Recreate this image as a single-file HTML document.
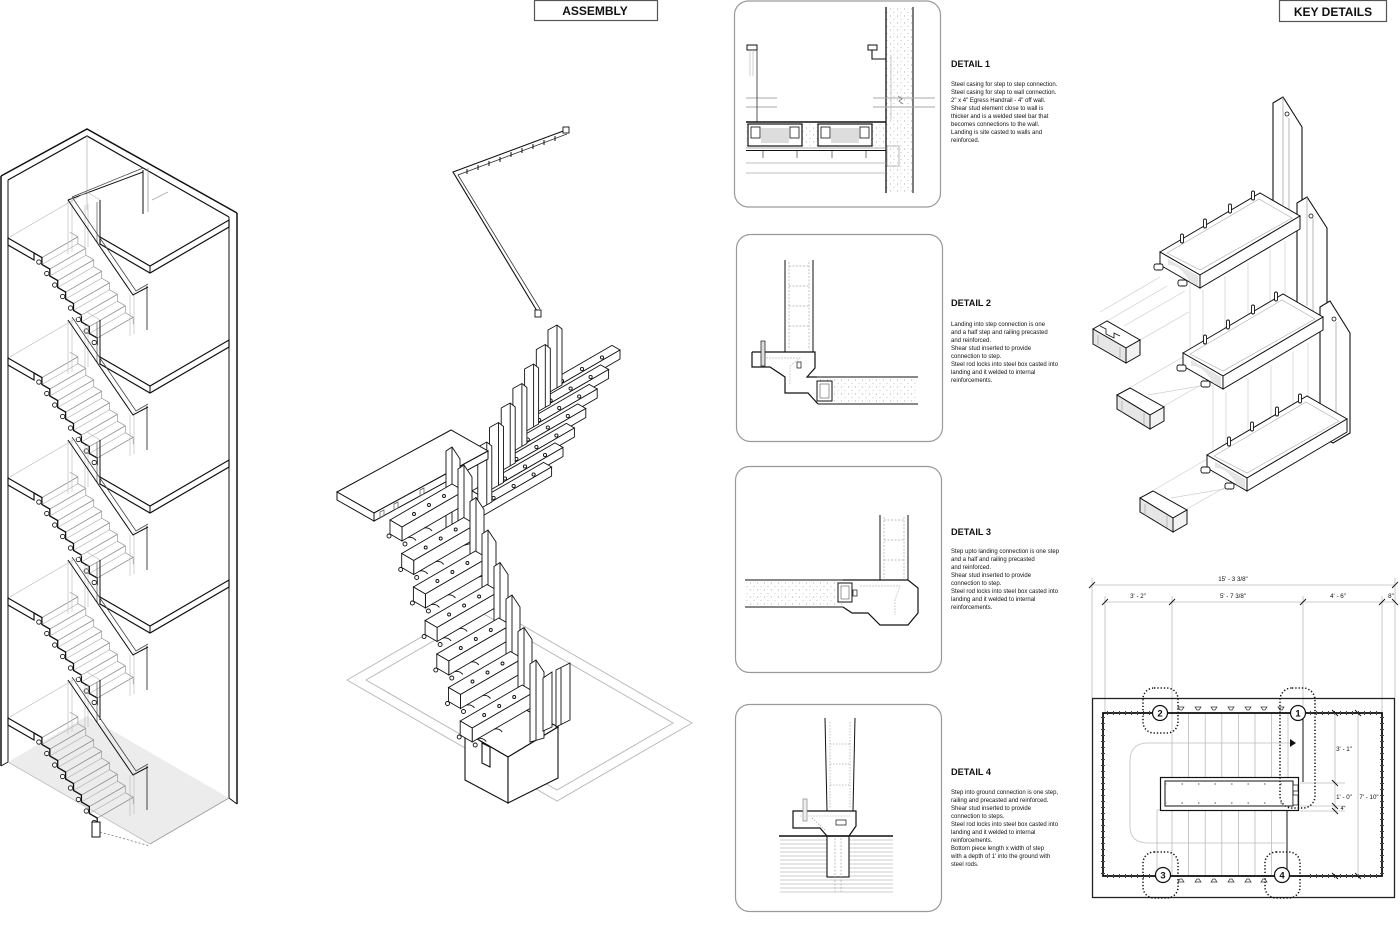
<!DOCTYPE html>
<html><head><meta charset="utf-8">
<style>
html,body{margin:0;padding:0;background:#fff;}
svg{display:block;}
text{font-family:"Liberation Sans",Arial,sans-serif;fill:#111;}
</style></head><body>
<svg width="1400" height="951" viewBox="0 0 1400 951" xmlns="http://www.w3.org/2000/svg">
<defs>
<pattern id="st" width="7" height="7" patternUnits="userSpaceOnUse"><circle cx="1.5" cy="2" r=".55" fill="#999"/><circle cx="5" cy="5.5" r=".45" fill="#aaa"/><circle cx="4.5" cy="1.2" r=".35" fill="#bbb"/></pattern>

<g id="fl">
 <line x1="8" y1="238" x2="87" y2="192" stroke="#bbb" stroke-width=".7"/>
 <line x1="87" y1="192" x2="100" y2="200" stroke="#bbb" stroke-width=".7"/>
 <g stroke="#777" stroke-width=".65">
  <line x1="41.9" y1="257.6" x2="77.9" y2="236.8"/><line x1="49.8" y1="269.1" x2="85.8" y2="248.3"/>
  <line x1="57.7" y1="280.6" x2="93.7" y2="259.8"/><line x1="65.6" y1="292.1" x2="101.6" y2="271.3"/>
  <line x1="73.5" y1="303.6" x2="109.5" y2="282.8"/><line x1="81.4" y1="315.1" x2="117.4" y2="294.3"/>
  <line x1="89.3" y1="326.6" x2="125.3" y2="305.8"/><line x1="97.2" y1="338.1" x2="133.2" y2="317.3"/>
 </g>
 <g stroke="#aaa" stroke-width=".6">
  <line x1="41.9" y1="264.5" x2="77.9" y2="243.7"/><line x1="49.8" y1="276" x2="85.8" y2="255.2"/>
  <line x1="57.7" y1="287.5" x2="93.7" y2="266.7"/><line x1="65.6" y1="299" x2="101.6" y2="278.2"/>
  <line x1="73.5" y1="310.5" x2="109.5" y2="289.7"/><line x1="81.4" y1="322" x2="117.4" y2="301.2"/>
  <line x1="89.3" y1="333.5" x2="125.3" y2="312.7"/>
 </g>
 <path d="M70,232.2 l7.9,4.56v6.94 l7.9,4.56v6.94 l7.9,4.56v6.94 l7.9,4.56v6.94 l7.9,4.56v6.94 l7.9,4.56v6.94 l7.9,4.56v6.94 l7.9,4.56v6.94" fill="none" stroke="#999" stroke-width=".7"/>
 <g stroke="#c0c0c0" stroke-width=".7">
  <line x1="68" y1="200" x2="68" y2="254"/><line x1="72" y1="198" x2="72" y2="252"/>
  <line x1="85" y1="205" x2="85" y2="249"/><line x1="88" y1="204" x2="88" y2="247"/>
  <line x1="130" y1="295" x2="130" y2="336"/><line x1="134" y1="292" x2="134" y2="334"/>
 </g>
 <line x1="97" y1="202" x2="97" y2="242" stroke="#666" stroke-width=".8"/>
 <line x1="100" y1="200" x2="100" y2="240" stroke="#111" stroke-width="1"/>
 <line x1="147" y1="286" x2="147" y2="330" stroke="#333" stroke-width=".9"/>
 <polygon points="8,238 34,253 34,260 8,245" fill="#fff" stroke="#111" stroke-width="1.2"/>
 <path d="M34,253 l7.9,4.56v6.94 l7.9,4.56v6.94 l7.9,4.56v6.94 l7.9,4.56v6.94 l7.9,4.56v6.94 l7.9,4.56v6.94 l7.9,4.56v6.94 l7.9,4.56v6.94" fill="none" stroke="#111" stroke-width="1.3"/>
 <g fill="#fff" stroke="#111" stroke-width=".8">
  <circle cx="38.9" cy="262" r="2.2"/><circle cx="46.8" cy="273.5" r="2.2"/><circle cx="54.7" cy="285" r="2.2"/>
  <circle cx="62.6" cy="296.5" r="2.2"/><circle cx="70.5" cy="308" r="2.2"/><circle cx="78.4" cy="319.5" r="2.2"/>
  <circle cx="86.3" cy="331" r="2.2"/><circle cx="94.2" cy="342.5" r="2.2"/>
 </g>
 <path d="M68,200 L133,295 L148,287" fill="none" stroke="#111" stroke-width="1"/>
 <path d="M72,197 L136,291 L148,284" fill="none" stroke="#444" stroke-width=".8"/>
</g>

<g id="ld">
 <polygon points="100,237 150,266 229,220 229,227 150,273 100,244" fill="#fff" stroke="#111" stroke-width="1.2"/>
 <line x1="150" y1="266" x2="150" y2="273" stroke="#111" stroke-width="1"/>
</g>

<g id="ut" stroke="#111" stroke-width=".9">
 <path d="M0,0 L83,-48 L75,-52.6 L-8,-4.6 Z" fill="#fff"/>
 <path d="M0,0 L83,-48 L83,-39 L0,9 Z" fill="#fff"/>
 <path d="M0,0 L-8,-4.6 L-8,4.4 L0,9 Z" fill="#fff"/>
 <circle cx="25" cy="-17" r="1.6" fill="#fff"/><circle cx="45" cy="-29" r="1.6" fill="#fff"/><circle cx="65" cy="-40.5" r="1.6" fill="#fff"/>
</g>
<g id="up" stroke="#111" stroke-width=".9">
 <path d="M0,5 L9,0 L14,4 L14,60 L0,68 Z" fill="#fff"/>
 <path d="M9,0 V63" fill="none"/>
</g>
<g id="lt" stroke="#111" stroke-width=".9">
 <path d="M0,0 L62,-36 L50,-43 L-12,-7 Z" fill="#fff"/>
 <path d="M0,0 L62,-36 L62,-22 L0,14 Z" fill="#fff"/>
 <path d="M0,0 L-12,-7 L-12,7 L0,14 Z" fill="#fff"/>
 <path d="M6,10.5 q5,-1 8,3 M22,1 q5,-1 8,3" fill="none"/>
 <circle cx="12" cy="-13" r="1.5" fill="#fff"/><circle cx="27" cy="-22" r="1.5" fill="#fff"/><circle cx="42" cy="-31" r="1.5" fill="#fff"/>
 <circle cx="-13" cy="9" r="2" fill="#fff"/><circle cx="3" cy="17" r="2" fill="#fff"/>
</g>
<g id="lp" stroke="#111" stroke-width=".9">
 <path d="M0,4 L6,0 L14,12 L14,78 L0,82 Z" fill="#fff"/>
 <path d="M6,0 V80" fill="none"/>
</g>

<g id="kt" stroke="#111" stroke-width="1">
 <path d="M0,0 L100,-59 L140,-36 L40,23 Z" fill="#fff"/>
 <path d="M7,1 L99,-53 L132,-34 L40,18 Z" fill="none" stroke="#aaa" stroke-width=".6"/>
 <path d="M40,23 L140,-36 L140,-23 L40,36 Z" fill="#fff"/>
 <path d="M0,0 L40,23 L40,36 L0,13 Z" fill="#fff"/>
 <path d="M8,13 Q20,12 30,30 L38,34 L38,24 L8,7 Z" fill="#e4e4e4" stroke="none"/>
 <g fill="#fff" stroke-width=".9">
  <rect x="20.5" y="-18" width="3" height="9" rx="1.5"/><rect x="43.5" y="-33" width="3" height="9" rx="1.5"/>
  <rect x="68.5" y="-48" width="3" height="9" rx="1.5"/><rect x="91.5" y="-61" width="3" height="9" rx="1.5"/>
  <rect x="-6" y="12" width="9" height="6" rx="2"/><rect x="18" y="28" width="9" height="6" rx="2"/>
 </g>
</g>
</defs>

<rect x="534.5" y="0.5" width="123" height="20" fill="#fff" stroke="#555" stroke-width="1.2"/>
<text x="595" y="15" text-anchor="middle" font-size="12" font-weight="bold">ASSEMBLY</text>
<rect x="1279.5" y="0.5" width="107" height="21" fill="#fff" stroke="#555" stroke-width="1.2"/>
<text x="1333" y="16" text-anchor="middle" font-size="12" font-weight="bold">KEY DETAILS</text>

<!-- TOWER -->
<polygon points="8,762 87,716 229,798 150,844" fill="#ececec"/>
<polyline points="1,176 87,129 237,213" fill="none" stroke="#111" stroke-width="1.5"/>
<polyline points="8,180 87,136 229,217" fill="none" stroke="#111" stroke-width="1.2"/>
<line x1="87" y1="136" x2="87" y2="210" stroke="#bbb" stroke-width=".8"/>
<line x1="1" y1="176" x2="1" y2="766" stroke="#111" stroke-width="1.5"/>
<line x1="8" y1="180" x2="8" y2="762" stroke="#111" stroke-width="1"/>
<line x1="237" y1="213" x2="237" y2="804" stroke="#111" stroke-width="1.5"/>
<line x1="229" y1="217" x2="229" y2="798" stroke="#111" stroke-width="1"/>
<line x1="1" y1="766" x2="8" y2="762" stroke="#111"/>
<line x1="229" y1="798" x2="237" y2="804" stroke="#111"/>
<line x1="150" y1="844" x2="229" y2="798" stroke="#999" stroke-width=".8"/>
<line x1="8" y1="762" x2="150" y2="844" stroke="#bbb" stroke-width=".8"/>
<path d="M68,200 L143,172" stroke="#111" stroke-width="1" fill="none"/>
<path d="M72,197 L143,168" stroke="#444" stroke-width=".8" fill="none"/>
<line x1="143" y1="170" x2="143" y2="214" stroke="#111" stroke-width="1"/>
<line x1="148" y1="168" x2="148" y2="212" stroke="#999" stroke-width=".8"/>
<line x1="152" y1="200" x2="168" y2="192" stroke="#aaa" stroke-width=".8"/>

<use href="#ld"/>
<use href="#ld" transform="translate(0,120)"/>
<use href="#ld" transform="translate(0,240)"/>
<use href="#ld" transform="translate(0,360)"/>
<use href="#fl"/>
<use href="#fl" transform="translate(0,120)"/>
<use href="#fl" transform="translate(0,240)"/>
<use href="#fl" transform="translate(0,360)"/>
<use href="#fl" transform="translate(0,480)"/>
<rect x="92" y="822" width="8" height="15" fill="#fff" stroke="#111" stroke-width="1"/>
<line x1="100" y1="832" x2="150" y2="846" stroke="#666" stroke-width=".7" stroke-dasharray="2 2"/>

<!-- ASSEMBLY -->
<polygon points="347,680 482,602 692,723 557,801" fill="none" stroke="#bbb" stroke-width="1"/>
<polygon points="366,680 482,613 673,723 557,790" fill="none" stroke="#bbb" stroke-width="1"/>
<path d="M566,130 L453,172 L537,311" fill="none" stroke="#111" stroke-width="1.1"/>
<path d="M567,134 L458,175 L540,309" fill="none" stroke="#333" stroke-width=".8"/>
<g stroke="#111" stroke-width="1">
 <line x1="555" y1="136" x2="555" y2="141"/><line x1="544" y1="140" x2="544" y2="145"/><line x1="533" y1="144" x2="533" y2="149"/>
 <line x1="522" y1="148" x2="522" y2="153"/><line x1="511" y1="152" x2="511" y2="157"/><line x1="500" y1="157" x2="500" y2="162"/>
 <line x1="489" y1="161" x2="489" y2="166"/><line x1="478" y1="165" x2="478" y2="170"/><line x1="467" y1="169" x2="467" y2="174"/>
</g>
<rect x="563" y="127" width="6" height="6" fill="#fff" stroke="#111" stroke-width=".9"/>
<rect x="535" y="310" width="6" height="7" fill="#fff" stroke="#111" stroke-width=".9"/>
<use href="#ut" transform="translate(537,398)"/><use href="#up" transform="translate(548,325)"/>
<use href="#ut" transform="translate(525.6,417.5)"/><use href="#up" transform="translate(536.3,344.5)"/>
<use href="#ut" transform="translate(514.2,437)"/><use href="#up" transform="translate(524.6,364)"/>
<use href="#ut" transform="translate(502.8,456.5)"/><use href="#up" transform="translate(512.9,383.5)"/>
<use href="#ut" transform="translate(491.4,476)"/><use href="#up" transform="translate(501.2,403)"/>
<use href="#ut" transform="translate(480,495.5)"/><use href="#up" transform="translate(489.5,422.5)"/>
<use href="#ut" transform="translate(468.6,515)"/><use href="#up" transform="translate(477.8,442)"/>
<g stroke="#111" stroke-width="1">
 <path d="M337,492 L451,430 L488,451 L374,513 Z" fill="#fff"/>
 <path d="M337,492 L374,513 L374,521 L337,500 Z" fill="#fff"/>
 <path d="M374,513 L488,451 L488,459 L374,521 Z" fill="#fff"/>
</g>
<g stroke="#555" stroke-width=".7" fill="none">
 <path d="M380,512 l4,-2 v6 l-4,2 z M394,504 l4,-2 v6 l-4,2 z M420,490 l4,-2 v6 l-4,2 z"/>
</g>
<use href="#lp" transform="translate(446,447)"/>
<g stroke="#111" stroke-width="1.1">
 <path d="M465,732 L515,704 L558,727 L508,757 Z" fill="#fff"/>
 <path d="M465,732 L508,757 L508,803 L465,780 Z" fill="#fff"/>
 <path d="M508,757 L558,727 L558,778 L508,803 Z" fill="#fff"/>
 <path d="M482,743 L490,747 L490,767 L482,763 Z" fill="#fff"/>
</g>
<use href="#lt" transform="translate(402,527)"/><use href="#lp" transform="translate(458,465)"/>
<use href="#lt" transform="translate(413.7,560.5)"/><use href="#lp" transform="translate(470,497.5)"/>
<use href="#lt" transform="translate(425.4,594)"/><use href="#lp" transform="translate(482,530)"/>
<use href="#lt" transform="translate(437.1,627.5)"/><use href="#lp" transform="translate(494,562.5)"/>
<use href="#lt" transform="translate(448.8,661)"/><use href="#lp" transform="translate(506,595)"/>
<use href="#lt" transform="translate(460.5,694.5)"/><use href="#lp" transform="translate(518,627.5)"/>
<use href="#lt" transform="translate(472.2,728)"/><use href="#lp" transform="translate(530,660)"/>
<g stroke="#111" stroke-width=".9" fill="#fff">
 <path d="M543,678 L552,672 L552,727 L543,731 Z"/>
 <path d="M556,670 L570,663 L570,720 L556,727 Z"/>
 <path d="M561,668 V725" fill="none"/>
</g>

<!-- DETAIL PANELS -->
<g fill="#fff" stroke="#9a9a9a" stroke-width="1.2">
 <rect x="734.5" y="1" width="206" height="206" rx="14"/>
 <rect x="736.5" y="234.5" width="206" height="207" rx="14"/>
 <rect x="735.5" y="466.5" width="206" height="206" rx="14"/>
 <rect x="735.5" y="704.5" width="206" height="207" rx="14"/>
</g>

<rect x="886" y="7" width="27" height="186" fill="url(#st)"/>
<line x1="886" y1="7" x2="886" y2="193" stroke="#111" stroke-width="1.3"/>
<line x1="913" y1="7" x2="913" y2="193" stroke="#111" stroke-width="1.1"/>
<g stroke="#aaa" stroke-width="1">
 <line x1="746" y1="98" x2="777" y2="98"/><line x1="746" y1="107" x2="777" y2="107"/>
 <line x1="873" y1="98" x2="935" y2="98"/><line x1="873" y1="107" x2="935" y2="107"/>
</g>
<path d="M898,96 l4,3 l-3,2 l4,3" fill="none" stroke="#666" stroke-width=".7"/>
<rect x="747" y="45" width="10" height="5" fill="#fff" stroke="#111" stroke-width="1"/>
<line x1="750" y1="50" x2="750" y2="76" stroke="#bbb" stroke-width=".7"/>
<line x1="753" y1="50" x2="753" y2="76" stroke="#bbb" stroke-width=".7"/>
<line x1="757" y1="50" x2="757" y2="122" stroke="#555" stroke-width="1"/>
<rect x="868" y="45" width="9" height="5" fill="#fff" stroke="#111" stroke-width="1"/>
<path d="M872,50 V59 H886" fill="none" stroke="#111" stroke-width="1.1"/>
<line x1="891" y1="55" x2="891" y2="120" stroke="#bbb" stroke-width=".8"/>
<rect x="746" y="122" width="140" height="25" fill="url(#st)"/>
<line x1="746" y1="122" x2="886" y2="122" stroke="#111" stroke-width="1.6"/>
<g stroke="#111" stroke-width="1.2" fill="#fff">
 <rect x="748" y="124" width="54" height="22"/><rect x="818" y="124" width="54" height="22"/>
</g>
<g fill="#ddd"><rect x="761" y="128" width="28" height="15"/><rect x="831" y="128" width="28" height="15"/></g>
<g fill="#fff" stroke="#111" stroke-width=".8">
 <rect x="751" y="127" width="9" height="11"/><rect x="790" y="127" width="9" height="11"/>
 <rect x="821" y="127" width="9" height="11"/><rect x="860" y="127" width="9" height="11"/>
</g>
<line x1="746" y1="148" x2="886" y2="148" stroke="#999" stroke-width=".8"/>
<line x1="746" y1="150.5" x2="886" y2="150.5" stroke="#111" stroke-width="1"/>
<line x1="746" y1="163" x2="886" y2="163" stroke="#aaa" stroke-width=".8"/>
<line x1="746" y1="173" x2="886" y2="173" stroke="#aaa" stroke-width=".8"/>
<g stroke="#777" stroke-width="1"><line x1="763" y1="151" x2="763" y2="158"/><line x1="797" y1="151" x2="797" y2="158"/><line x1="832" y1="151" x2="832" y2="158"/><line x1="866" y1="151" x2="866" y2="158"/></g>
<rect x="887" y="146" width="12" height="20" fill="none" stroke="#999" stroke-width=".7"/>

<line x1="785" y1="260" x2="785" y2="352" stroke="#111" stroke-width="1"/>
<line x1="813" y1="260" x2="813" y2="352" stroke="#111" stroke-width="1"/>
<g stroke="#aaa" stroke-width=".7" stroke-dasharray="2 1.5" fill="none">
 <path d="M789,262 V350 M809,262 V350 M789,266 H809 M789,286 H809 M789,306 H809 M789,326 H809"/>
</g>
<rect x="817" y="377" width="101" height="27" fill="url(#st)"/>
<line x1="815" y1="377" x2="918" y2="377" stroke="#111" stroke-width="1.1"/>
<line x1="818" y1="404" x2="918" y2="404" stroke="#111" stroke-width="1.1"/>
<path d="M752,352 H815 V368 L807,377 H817 M752,352 V367 H770 L785,377 V393 H808 L818,404" fill="none" stroke="#111" stroke-width="1.2"/>
<path d="M760,358 H800 L790,366 V385" fill="none" stroke="#bbb" stroke-width=".7" stroke-dasharray="2 1"/>
<rect x="817" y="381" width="15" height="20" fill="#fff" stroke="#111" stroke-width="1"/>
<rect x="820" y="384" width="9" height="14" fill="none" stroke="#555" stroke-width=".6"/>
<rect x="761" y="341" width="4" height="25" fill="#ddd" stroke="#111" stroke-width=".7"/>
<rect x="797" y="362" width="4" height="6" fill="none" stroke="#111" stroke-width=".7"/>

<line x1="880" y1="515" x2="880" y2="580" stroke="#111" stroke-width="1"/>
<line x1="908" y1="515" x2="908" y2="580" stroke="#111" stroke-width="1"/>
<g stroke="#aaa" stroke-width=".7" stroke-dasharray="2 1.5" fill="none">
 <path d="M884,517 V578 M904,517 V578 M884,520 H904 M884,540 H904 M884,560 H904"/>
</g>
<rect x="745" y="580" width="98" height="27" fill="url(#st)"/>
<line x1="745" y1="580" x2="843" y2="580" stroke="#111" stroke-width="1.1"/>
<line x1="745" y1="607" x2="843" y2="607" stroke="#111" stroke-width="1.1"/>
<path d="M843,580 H908 L918,588 V613 L908,625 H880 L868,613 H852 L843,607" fill="none" stroke="#111" stroke-width="1.2"/>
<path d="M860,586 H900 L895,600 V615" fill="none" stroke="#bbb" stroke-width=".7" stroke-dasharray="2 1"/>
<rect x="838" y="583" width="14" height="19" fill="#fff" stroke="#111" stroke-width="1"/>
<rect x="841" y="586" width="8" height="13" fill="none" stroke="#555" stroke-width=".6"/>
<rect x="853" y="590" width="4" height="6" fill="none" stroke="#111" stroke-width=".7"/>

<g stroke="#ccc" stroke-width=".9">
 <line x1="780" y1="840" x2="893" y2="840"/><line x1="780" y1="844" x2="893" y2="844"/><line x1="780" y1="848" x2="893" y2="848"/>
 <line x1="780" y1="852" x2="893" y2="852"/><line x1="780" y1="856" x2="893" y2="856"/><line x1="780" y1="860" x2="893" y2="860"/>
 <line x1="780" y1="864" x2="893" y2="864"/><line x1="780" y1="868" x2="893" y2="868"/><line x1="780" y1="872" x2="893" y2="872"/>
 <line x1="780" y1="876" x2="893" y2="876"/><line x1="780" y1="880" x2="893" y2="880"/><line x1="780" y1="884" x2="893" y2="884"/>
 <line x1="780" y1="888" x2="893" y2="888"/><line x1="780" y1="892" x2="893" y2="892"/>
</g>
<rect x="827" y="836" width="22" height="41" fill="#fff" stroke="#111" stroke-width="1.1"/>
<line x1="835" y1="838" x2="835" y2="892" stroke="#999" stroke-width=".6" stroke-dasharray="2 1.5"/>
<line x1="841" y1="838" x2="841" y2="892" stroke="#999" stroke-width=".6" stroke-dasharray="2 1.5"/>
<line x1="825" y1="718" x2="827" y2="811" stroke="#111" stroke-width="1"/>
<line x1="855" y1="718" x2="853" y2="811" stroke="#111" stroke-width="1"/>
<g stroke="#aaa" stroke-width=".7" stroke-dasharray="1.5 1.5" fill="none">
 <path d="M830,722 V808 M850,722 V808 M830,744 H850 M830,764 H850 M830,785 H850"/>
</g>
<path d="M793,811 H856 V826 L849,836 H827 L820,828 H793 Z" fill="#fff" stroke="#111" stroke-width="1.2"/>
<path d="M800,816 H850 M812,818 L825,830" fill="none" stroke="#999" stroke-width=".6" stroke-dasharray="1.5 1.2"/>
<rect x="836" y="820" width="10" height="5" fill="none" stroke="#111" stroke-width=".7"/>
<line x1="779" y1="836" x2="893" y2="836" stroke="#111" stroke-width="1.6"/>
<rect x="803" y="799" width="4" height="22" fill="#eee" stroke="#888" stroke-width=".7"/>

<g font-size="6">
<text x="951" y="67" font-size="9.5" font-weight="bold" textLength="39" lengthAdjust="spacingAndGlyphs">DETAIL 1</text>
<text x="951" y="86">Steel casing for step to step connection.</text>
<text x="951" y="94">Steel casing for step to wall connection.</text>
<text x="951" y="102">2" x 4" Egress Handrail - 4" off wall.</text>
<text x="951" y="110">Shear stud element close to wall is</text>
<text x="951" y="118">thicker and is a welded steel bar that</text>
<text x="951" y="126">becomes  connections to the wall.</text>
<text x="951" y="134">Landing is site casted to walls and</text>
<text x="951" y="142">reinforced.</text>

<text x="951" y="306" font-size="9.5" font-weight="bold" textLength="40" lengthAdjust="spacingAndGlyphs">DETAIL 2</text>
<text x="951" y="326">Landing into step connection is one</text>
<text x="951" y="334">and a half step and railing precasted</text>
<text x="951" y="342">and reinforced.</text>
<text x="951" y="350">Shear stud  inserted to provide</text>
<text x="951" y="358">connection to step.</text>
<text x="951" y="366">Steel rod locks into steel box casted into</text>
<text x="951" y="374">landing and it welded to internal</text>
<text x="951" y="382">reinforcements.</text>

<text x="951" y="535" font-size="9.5" font-weight="bold" textLength="40" lengthAdjust="spacingAndGlyphs">DETAIL 3</text>
<text x="951" y="553">Step upto landing connection is one step</text>
<text x="951" y="561">and a half and railing precasted</text>
<text x="951" y="569">and reinforced.</text>
<text x="951" y="577">Shear stud  inserted to provide</text>
<text x="951" y="585">connection to step.</text>
<text x="951" y="593">Steel rod locks into steel box casted into</text>
<text x="951" y="601">landing and it welded to internal</text>
<text x="951" y="609">reinforcements.</text>

<text x="951" y="775" font-size="9.5" font-weight="bold" textLength="40" lengthAdjust="spacingAndGlyphs">DETAIL 4</text>
<text x="951" y="794">Step into ground connection is one step,</text>
<text x="951" y="802">railing and  precasted and reinforced.</text>
<text x="951" y="810">Shear stud  inserted to provide</text>
<text x="951" y="818">connection to steps.</text>
<text x="951" y="826">Steel rod locks into steel box casted into</text>
<text x="951" y="834">landing and it welded to internal</text>
<text x="951" y="842">reinforcements.</text>
<text x="951" y="850">Bottom piece length x width of step</text>
<text x="951" y="858">with a depth of 1' into the ground with</text>
<text x="951" y="866">steel rods.</text>
</g>

<!-- KEY DETAILS EXPLODED -->
<g stroke="#cfcfcf" stroke-width=".7">
 <line x1="1190" y1="282" x2="1190" y2="372"/><line x1="1203" y1="290" x2="1203" y2="380"/>
 <line x1="1225" y1="276" x2="1225" y2="365"/><line x1="1248" y1="263" x2="1248" y2="352"/>
 <line x1="1270" y1="250" x2="1270" y2="338"/><line x1="1285" y1="241" x2="1285" y2="330"/>
 <line x1="1213" y1="385" x2="1213" y2="474"/><line x1="1226" y1="392" x2="1226" y2="482"/>
 <line x1="1248" y1="378" x2="1248" y2="468"/><line x1="1271" y1="365" x2="1271" y2="454"/>
 <line x1="1293" y1="352" x2="1293" y2="440"/><line x1="1308" y1="343" x2="1308" y2="432"/>
 <line x1="1107" y1="321" x2="1167" y2="286"/><line x1="1124" y1="326" x2="1185" y2="291"/>
 <line x1="1100" y1="312" x2="1160" y2="277"/><line x1="1140" y1="340" x2="1189" y2="312"/>
 <line x1="1131" y1="387" x2="1190" y2="353"/><line x1="1164" y1="406" x2="1213" y2="378"/>
 <line x1="1148" y1="395" x2="1206" y2="385"/>
 <line x1="1154" y1="490" x2="1214" y2="455"/><line x1="1187" y1="509" x2="1236" y2="481"/>
 <line x1="1171" y1="498" x2="1230" y2="488"/>
</g>
<g stroke="#111" stroke-width="1.1" fill="#fff">
 <path d="M1273,103 L1283,97 L1302,127 L1302,222 L1273,205 Z"/>
 <path d="M1297,203 L1307,197 L1327,228 L1327,323 L1297,306 Z"/>
 <path d="M1320,307 L1330,301 L1350,333 L1350,433 L1333,443 L1320,436 Z"/>
</g>
<g stroke="#999" stroke-width=".7" fill="none">
 <path d="M1289,118 V216 M1313,218 V316 M1336,322 V438 M1283,97 V205 M1307,197 V306"/>
</g>
<g fill="#fff" stroke="#111" stroke-width=".8">
 <circle cx="1287" cy="114" r="2"/><circle cx="1311" cy="216" r="2"/><circle cx="1334" cy="319" r="2"/>
</g>
<use href="#kt" transform="translate(1160,252)"/>
<use href="#kt" transform="translate(1183,353)"/>
<use href="#kt" transform="translate(1207,455)"/>
<g stroke="#111" stroke-width="1">
 <path d="M1093,329 L1107,321 L1140,340 L1126,348 Z" fill="#fff"/>
 <path d="M1093,329 L1126,348 L1126,363 L1093,344 Z" fill="#e6e6e6"/>
 <path d="M1126,348 L1140,340 L1140,355 L1126,363 Z" fill="#f2f2f2"/>
 <path d="M1100,326 l6,3 v5 l8,4 v-5 l6,3" fill="none" stroke-width=".8"/>
 <path d="M1117,395 L1130,388 L1164,407 L1150,415 Z" fill="#fff"/>
 <path d="M1117,395 L1150,415 L1150,429 L1117,409 Z" fill="#e6e6e6"/>
 <path d="M1150,415 L1164,407 L1164,421 L1150,429 Z" fill="#f2f2f2"/>
 <path d="M1140,498 L1153,491 L1187,510 L1173,518 Z" fill="#fff"/>
 <path d="M1140,498 L1173,518 L1173,532 L1140,512 Z" fill="#e6e6e6"/>
 <path d="M1173,518 L1187,510 L1187,524 L1173,532 Z" fill="#f2f2f2"/>
</g>
<g stroke="#999" stroke-width=".6" fill="none">
 <path d="M1098,335 V345 M1120,347 V358 M1122,401 V413 M1144,413 V425 M1145,504 V516 M1167,516 V528"/>
</g>

<!-- PLAN -->
<g stroke="#bbb" stroke-width=".8">
 <line x1="1092" y1="585" x2="1395" y2="585"/>
 <line x1="1105" y1="602" x2="1395" y2="602"/>
 <line x1="1092" y1="578" x2="1092" y2="698"/><line x1="1395" y1="578" x2="1395" y2="698"/>
 <line x1="1105" y1="596" x2="1105" y2="713"/><line x1="1172" y1="596" x2="1172" y2="713"/>
 <line x1="1303" y1="596" x2="1303" y2="713"/><line x1="1382" y1="596" x2="1382" y2="713"/>
</g>
<g stroke="#111" stroke-width=".9">
 <line x1="1089" y1="588" x2="1095" y2="582"/><line x1="1392" y1="588" x2="1398" y2="582"/>
 <line x1="1102" y1="605" x2="1108" y2="599"/><line x1="1169" y1="605" x2="1175" y2="599"/>
 <line x1="1300" y1="605" x2="1306" y2="599"/><line x1="1379" y1="605" x2="1385" y2="599"/>
 <line x1="1392" y1="599" x2="1398" y2="605"/>
</g>
<g font-size="6.2" text-anchor="middle">
 <text x="1233" y="581">15' - 3 3/8"</text>
 <text x="1138" y="598">3' - 2"</text>
 <text x="1233" y="598">5' - 7 3/8"</text>
 <text x="1338" y="598">4' - 6"</text>
 <text x="1391" y="598">8"</text>
</g>
<rect x="1092.5" y="698.5" width="302" height="199" fill="none" stroke="#222" stroke-width="1.3"/>
<path d="M1290,743 H1148 Q1130,743 1130,761 V826 Q1130,843 1148,843 H1285" fill="none" stroke="#ccc" stroke-width="1"/>
<g stroke="#bbb" stroke-width=".8">
 <line x1="1172" y1="713" x2="1172" y2="777"/><line x1="1188.6" y1="713" x2="1188.6" y2="777"/>
 <line x1="1205.2" y1="713" x2="1205.2" y2="777"/><line x1="1221.8" y1="713" x2="1221.8" y2="777"/>
 <line x1="1238.4" y1="713" x2="1238.4" y2="777"/><line x1="1255" y1="713" x2="1255" y2="777"/>
 <line x1="1271.6" y1="713" x2="1271.6" y2="777"/><line x1="1288" y1="713" x2="1288" y2="777"/>
 <line x1="1157" y1="810" x2="1157" y2="876"/><line x1="1172" y1="810" x2="1172" y2="876"/>
 <line x1="1188.6" y1="810" x2="1188.6" y2="876"/><line x1="1205.2" y1="810" x2="1205.2" y2="876"/>
 <line x1="1221.8" y1="810" x2="1221.8" y2="876"/><line x1="1238.4" y1="810" x2="1238.4" y2="876"/>
 <line x1="1255" y1="810" x2="1255" y2="876"/><line x1="1271.6" y1="810" x2="1271.6" y2="876"/>
 <line x1="1157" y1="810" x2="1287" y2="810"/>
</g>
<line x1="1303" y1="713" x2="1303" y2="782" stroke="#111" stroke-width="1"/>
<line x1="1287" y1="810" x2="1287" y2="876" stroke="#111" stroke-width="1"/>
<polygon points="1290,739 1296,743 1290,747" fill="#111"/>
<rect x="1160.5" y="777.5" width="138" height="33" fill="#fff" stroke="#111" stroke-width="1.2"/>
<rect x="1165" y="781" width="128" height="25" fill="#fff" stroke="#111" stroke-width="1"/>
<line x1="1165" y1="784" x2="1293" y2="784" stroke="#777" stroke-width="1.2" stroke-dasharray="1.5 15"/>
<line x1="1165" y1="803" x2="1293" y2="803" stroke="#777" stroke-width="1.2" stroke-dasharray="1.5 15"/>
<rect x="1293" y="785" width="5" height="6" fill="#fff" stroke="#111" stroke-width=".7"/>
<rect x="1293" y="795" width="5" height="10" fill="#fff" stroke="#111" stroke-width=".7"/>
<rect x="1103" y="713" width="279" height="163" fill="none" stroke="#111" stroke-width="1.8"/>
<g stroke="#444" stroke-width="4" stroke-dasharray="1 5">
 <line x1="1107" y1="713" x2="1170" y2="713"/><line x1="1310" y1="713" x2="1380" y2="713"/>
 <line x1="1107" y1="876" x2="1170" y2="876"/><line x1="1310" y1="876" x2="1380" y2="876"/>
 <line x1="1103" y1="717" x2="1103" y2="874"/><line x1="1382" y1="717" x2="1382" y2="874"/>
</g>
<g fill="#fff" stroke="#333" stroke-width=".7">
 <path d="M1178,707 h6 l-2,3 h-2 z"/><path d="M1195,707 h6 l-2,3 h-2 z"/><path d="M1211,707 h6 l-2,3 h-2 z"/>
 <path d="M1228,707 h6 l-2,3 h-2 z"/><path d="M1245,707 h6 l-2,3 h-2 z"/><path d="M1261,707 h6 l-2,3 h-2 z"/>
 <path d="M1278,707 h6 l-2,3 h-2 z"/>
 <path d="M1178,882 h6 l-2,-3 h-2 z"/><path d="M1195,882 h6 l-2,-3 h-2 z"/><path d="M1211,882 h6 l-2,-3 h-2 z"/>
 <path d="M1228,882 h6 l-2,-3 h-2 z"/><path d="M1245,882 h6 l-2,-3 h-2 z"/><path d="M1261,882 h6 l-2,-3 h-2 z"/>
</g>
<g stroke="#bbb" stroke-width=".8">
 <line x1="1335" y1="713" x2="1335" y2="810"/><line x1="1358" y1="713" x2="1358" y2="876"/>
 <line x1="1300" y1="783" x2="1345" y2="783"/><line x1="1300" y1="806" x2="1345" y2="806"/>
 <line x1="1300" y1="811" x2="1345" y2="811"/>
</g>
<g stroke="#111" stroke-width=".9">
 <line x1="1332" y1="710" x2="1338" y2="716"/><line x1="1355" y1="710" x2="1361" y2="716"/>
 <line x1="1332" y1="780" x2="1338" y2="786"/><line x1="1332" y1="803" x2="1338" y2="809"/>
 <line x1="1332" y1="808" x2="1338" y2="814"/>
 <line x1="1332" y1="873" x2="1338" y2="879"/><line x1="1355" y1="873" x2="1361" y2="879"/>
</g>
<g font-size="6.2" text-anchor="middle">
 <text x="1344" y="751">3' - 1"</text>
 <text x="1344" y="799">1' - 0"</text>
 <text x="1369" y="799">7' - 10"</text>
 <text x="1343" y="810" font-size="5.5">4"</text>
</g>
<g fill="none" stroke="#111" stroke-width="1.5" stroke-dasharray="1.3 2">
 <rect x="1143" y="688" width="35" height="45" rx="11"/>
 <rect x="1280" y="688" width="35" height="120" rx="12"/>
 <rect x="1143" y="852" width="35" height="46" rx="11"/>
 <rect x="1265" y="852" width="35" height="46" rx="11"/>
</g>
<g fill="#fff" stroke="#111" stroke-width="1.2">
 <circle cx="1160" cy="713" r="7.5"/><circle cx="1298" cy="713" r="7.5"/>
 <circle cx="1163" cy="875" r="7.5"/><circle cx="1282" cy="875" r="7.5"/>
</g>
<g font-size="9.5" font-weight="bold" text-anchor="middle">
 <text x="1160" y="716.5">2</text><text x="1298" y="716.5">1</text>
 <text x="1163" y="878.5">3</text><text x="1282" y="878.5">4</text>
</g>
</svg>
</body></html>
